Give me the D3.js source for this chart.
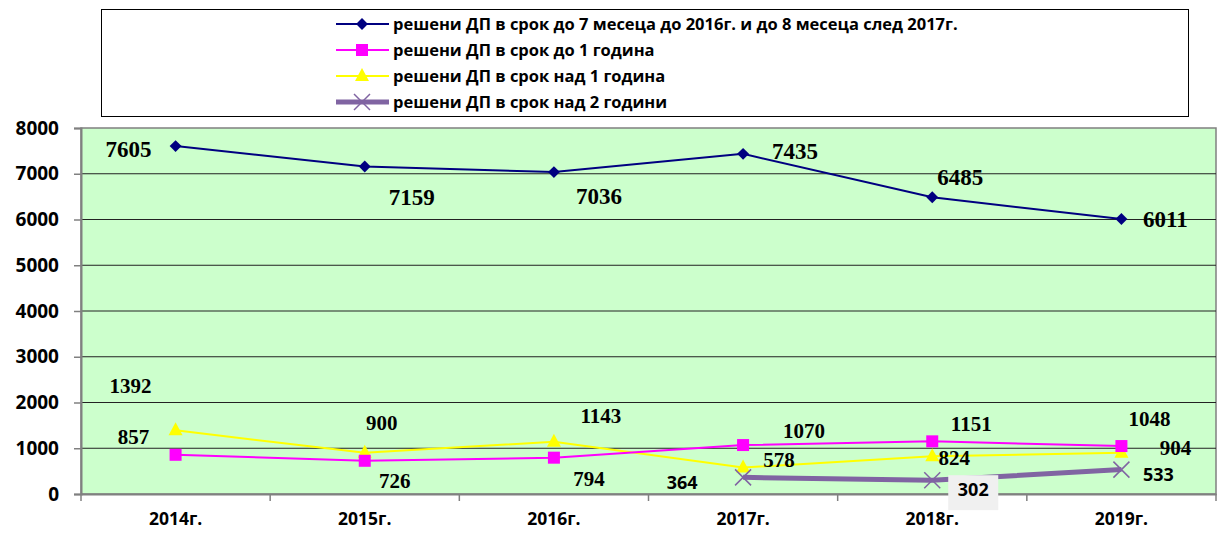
<html>
<head>
<meta charset="utf-8">
<script src="https://d3js.org/d3.v7.min.js"></script>
<style>
  body { margin: 0; background: #fff; }
</style>
</head>
<body>
<div id="chart"></div>
<script>
// data
const years = ["2014г.", "2015г.", "2016г.", "2017г.", "2018г.", "2019г."];
const upTo7m = [7605, 7159, 7036, 7435, 6485, 6011];
const upTo1y = [857, 726, 794, 1070, 1151, 1048];
const over1y = [1392, 900, 1143, 578, 824, 904];
const over2y = [null, null, null, 364, 302, 533];
const yTicks = [0, 1000, 2000, 3000, 4000, 5000, 6000, 7000, 8000];
const seriesNames = [
  "решени ДП в срок до 7 месеца до 2016г. и до 8 месеца след 2017г.",
  "решени ДП в срок до 1 година",
  "решени ДП в срок над 1 година",
  "решени ДП в срок над 2 години"
];

// label offsets (dx, dy) relative to the point
const offs7m = [[-47, 11], [47, 39], [45, 32], [52, 5], [28, -12], [44, 8]];
const offs1y = [[-42, -11], [30, 27], [35, 28], [61, -7], [39, -10], [28, -20]];
const offsOver1 = [[-45, -37], [17, -23], [47, -19], [36, -1], [22, 9], [54, 2]];
const offsOver2 = [null, null, null, [-61, 12], [41, 16], [37, 11]];

const width = 1219, height = 535;
const plot = { left: 81, right: 1216, top: 128, bottom: 494 };

const svg = d3.select("#chart").append("svg").attr("width", width).attr("height", height);

let x = d3.scaleBand().domain(years).range([plot.left, plot.right]);
let y = d3.scaleLinear().domain([0, 8000]).range([plot.bottom, plot.top]);
const cx = d => x(d) + x.bandwidth() / 2;

// plot background
svg.append("rect")
   .attr("x", plot.left).attr("y", plot.top)
   .attr("width", plot.right - plot.left).attr("height", plot.bottom - plot.top)
   .attr("fill", "#CCFFCC").attr("stroke", "#808080").attr("stroke-width", 1.5);

// gridlines
svg.append("g").selectAll("line")
   .data(yTicks.slice(1, -1))
   .enter().append("line")
   .attr("x1", plot.left).attr("x2", plot.right)
   .attr("y1", d => y(d)).attr("y2", d => y(d))
   .attr("stroke", "#222").attr("stroke-width", 1);

// y axis
let leftAxis = d3.axisLeft(y).tickValues(yTicks).tickFormat(d3.format("d")).tickSize(7).tickPadding(15);
let gy = svg.append("g")
   .attr("transform", "translate(" + plot.left + ",0)")
   .call(leftAxis);
gy.select(".domain").attr("stroke", "#808080").attr("stroke-width", 2);
gy.selectAll(".tick line").attr("stroke", "#808080").attr("stroke-width", 1.5);
gy.selectAll(".tick text")
  .attr("fill", "#000")
  .style("font", "bold 19px 'Open Sans', sans-serif");

// x axis
let bottomAxis = d3.axisBottom(x).tickSize(0).tickPadding(19);
let gx = svg.append("g")
   .attr("transform", "translate(0," + plot.bottom + ")")
   .call(bottomAxis);
gx.select(".domain").attr("stroke", "#808080").attr("stroke-width", 2);
gx.selectAll(".tick text")
  .attr("fill", "#000")
  .style("font", "bold 17.5px 'Open Sans', sans-serif");
// tick marks between categories
svg.append("g").selectAll("line")
   .data(years.concat([null]))
   .enter().append("line")
   .attr("x1", (d, i) => plot.left + i * x.step())
   .attr("x2", (d, i) => plot.left + i * x.step())
   .attr("y1", plot.bottom).attr("y2", plot.bottom + 7)
   .attr("stroke", "#808080").attr("stroke-width", 1.5);

const series = [
  { name: seriesNames[0], values: upTo7m, color: "#000080", width: 2, marker: "diamond", offs: offs7m, font: "bold 23px 'Liberation Serif', serif" },
  { name: seriesNames[1], values: upTo1y, color: "#FF00FF", width: 2, marker: "square", offs: offs1y, font: "bold 21px 'Liberation Serif', serif" },
  { name: seriesNames[2], values: over1y, color: "#FFFF00", width: 2, marker: "triangle", offs: offsOver1, font: "bold 21px 'Liberation Serif', serif" },
  { name: seriesNames[3], values: over2y, color: "#8064A2", width: 5, marker: "x", offs: offsOver2, font: "bold 18px 'Open Sans', sans-serif" }
];

function drawMarker(g, type, color, px, py) {
  if (type === "diamond") {
    g.append("path").attr("d", d3.symbol().type(d3.symbolDiamond2).size(90)())
     .attr("transform", "translate(" + px + "," + py + ")").attr("fill", color);
  } else if (type === "square") {
    g.append("rect").attr("x", px - 6).attr("y", py - 6).attr("width", 12).attr("height", 12).attr("fill", color);
  } else if (type === "triangle") {
    g.append("path").attr("d", "M" + px + "," + (py - 8) + "L" + (px + 7) + "," + (py + 5) + "L" + (px - 7) + "," + (py + 5) + "Z")
     .attr("fill", color);
  } else {
    g.append("path").attr("d", "M" + (px - 8) + "," + (py - 8) + "L" + (px + 8) + "," + (py + 8) + "M" + (px + 8) + "," + (py - 8) + "L" + (px - 8) + "," + (py + 8))
     .attr("stroke", color).attr("stroke-width", 1.5).attr("fill", "none");
  }
}

// draw order: yellow, pink, purple, blue roughly like the original
[2, 1, 3, 0].forEach(function(si) {
  const s = series[si];
  const pts = years.map((yr, i) => ({ yr: yr, v: s.values[i], i: i })).filter(p => p.v !== null);
  const line = d3.line().x(p => cx(p.yr)).y(p => y(p.v));
  const g = svg.append("g");
  g.append("path").datum(pts).attr("d", line)
   .attr("fill", "none").attr("stroke", s.color).attr("stroke-width", s.width);
  pts.forEach(p => drawMarker(g, s.marker, s.color, cx(p.yr), y(p.v)));
});

// data labels
series.forEach(function(s, si) {
  years.forEach(function(yr, i) {
    const v = s.values[i];
    if (v === null) return;
    const lx = cx(yr) + s.offs[i][0], ly = y(v) + s.offs[i][1];
    if (si === 3 && i === 4) {
      svg.append("rect").attr("x", lx - 25).attr("y", ly - 21).attr("width", 50).attr("height", 35).attr("fill", "#F0F0F0");
    }
    svg.append("text")
       .attr("x", lx).attr("y", ly)
       .attr("text-anchor", "middle")
       .style("font", s.font)
       .attr("fill", "#000")
       .text(v);
  });
});

// legend
const lg = svg.append("g");
lg.append("rect").attr("x", 101.5).attr("y", 9.5).attr("width", 1087).attr("height", 107)
  .attr("fill", "#fff").attr("stroke", "#000").attr("stroke-width", 1);
series.forEach(function(s, i) {
  const ly = 24 + i * 26;
  lg.append("line").attr("x1", 336).attr("x2", 389).attr("y1", ly).attr("y2", ly)
    .attr("stroke", s.color).attr("stroke-width", s.width);
  drawMarker(lg, s.marker, s.color, 362, ly);
  lg.append("text").attr("x", 393).attr("y", ly + 5.5)
    .style("font", "bold 16.5px 'Open Sans', sans-serif")
    .attr("fill", "#000")
    .text(s.name);
});
</script>
</body>
</html>
